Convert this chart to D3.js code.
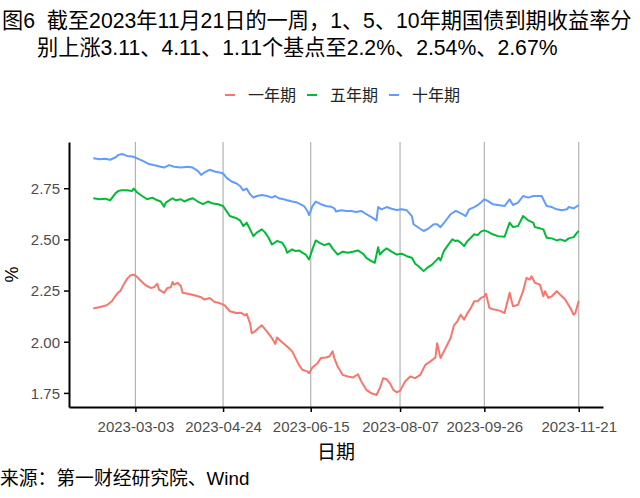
<!DOCTYPE html>
<html><head><meta charset="utf-8">
<script src="https://cdn.jsdelivr.net/npm/d3@7"></script>
<style>
body{margin:0;background:#fff}
svg{display:block}
text{font-family:"Liberation Sans","Noto Sans CJK SC",sans-serif}
</style>
</head><body>
<svg id="chart" width="640" height="498"></svg>
<script>
// ---------- data ----------
const titleLines = ["图6  截至2023年11月21日的一周，1、5、10年期国债到期收益率分",
                    "别上涨3.11、4.11、1.11个基点至2.2%、2.54%、2.67%"];
const seriesNames = ["一年期","五年期","十年期"];
const seriesColors = ["#F8766D","#00BA38","#619CFF"];
const xTickDates = ["2023-03-03","2023-04-24","2023-06-15","2023-08-07","2023-09-26","2023-11-21"];
const yTickValues = [1.75,2.00,2.25,2.50,2.75];
const xTitle = "日期";
const yTitle = "%";
const caption = "来源：第一财经研究院、Wind";

const oneYear = [
["2023-02-06",2.162],["2023-02-10",2.170],["2023-02-14",2.178],["2023-02-17",2.198],["2023-02-19",2.222],
["2023-02-21",2.242],["2023-02-22",2.247],["2023-02-24",2.279],["2023-02-26",2.307],["2023-02-28",2.324],
["2023-03-02",2.328],["2023-03-04",2.317],["2023-03-06",2.299],["2023-03-09",2.276],["2023-03-12",2.263],
["2023-03-14",2.266],["2023-03-16",2.283],["2023-03-17",2.255],["2023-03-20",2.239],["2023-03-22",2.263],
["2023-03-24",2.266],["2023-03-25",2.292],["2023-03-26",2.279],["2023-03-28",2.288],["2023-03-30",2.271],
["2023-03-31",2.239],["2023-04-03",2.234],["2023-04-07",2.227],["2023-04-11",2.217],["2023-04-13",2.206],
["2023-04-16",2.214],["2023-04-19",2.194],["2023-04-22",2.189],["2023-04-25",2.178],["2023-04-28",2.149],
["2023-05-02",2.140],["2023-05-05",2.140],["2023-05-07",2.129],["2023-05-08",2.136],["2023-05-10",2.091],
["2023-05-11",2.042],["2023-05-13",2.051],["2023-05-15",2.067],["2023-05-17",2.080],["2023-05-20",2.051],
["2023-05-23",2.018],["2023-05-25",1.989],["2023-05-26",2.021],["2023-05-29",1.998],["2023-06-01",1.977],
["2023-06-04",1.953],["2023-06-06",1.920],["2023-06-08",1.887],["2023-06-10",1.863],["2023-06-13",1.855],
["2023-06-14",1.846],["2023-06-16",1.874],["2023-06-19",1.895],["2023-06-21",1.920],["2023-06-24",1.923],
["2023-06-26",1.928],["2023-06-28",1.953],["2023-06-29",1.920],["2023-07-01",1.879],["2023-07-04",1.838],
["2023-07-07",1.830],["2023-07-10",1.825],["2023-07-13",1.841],["2023-07-15",1.806],["2023-07-18",1.765],
["2023-07-21",1.748],["2023-07-24",1.740],["2023-07-26",1.773],["2023-07-28",1.822],["2023-07-30",1.817],
["2023-08-01",1.797],["2023-08-03",1.765],["2023-08-05",1.753],["2023-08-07",1.760],["2023-08-10",1.806],
["2023-08-13",1.830],["2023-08-16",1.822],["2023-08-19",1.838],["2023-08-22",1.887],["2023-08-25",1.904],
["2023-08-28",1.923],["2023-08-29",1.993],["2023-08-31",1.920],["2023-09-02",1.953],["2023-09-04",1.985],
["2023-09-06",2.018],["2023-09-08",2.080],["2023-09-10",2.100],["2023-09-12",2.132],["2023-09-14",2.108],
["2023-09-16",2.140],["2023-09-18",2.165],["2023-09-20",2.198],["2023-09-22",2.198],["2023-09-24",2.214],
["2023-09-26",2.222],["2023-09-27",2.234],["2023-09-29",2.165],["2023-10-02",2.157],["2023-10-05",2.152],
["2023-10-08",2.140],["2023-10-11",2.239],["2023-10-13",2.173],["2023-10-16",2.181],["2023-10-19",2.247],
["2023-10-21",2.312],["2023-10-23",2.304],["2023-10-24",2.320],["2023-10-26",2.288],["2023-10-29",2.279],
["2023-10-31",2.222],["2023-11-01",2.247],["2023-11-03",2.214],["2023-11-05",2.222],["2023-11-08",2.247],
["2023-11-10",2.230],["2023-11-13",2.206],["2023-11-16",2.165],["2023-11-18",2.132],["2023-11-19",2.140],
["2023-11-21",2.200]
];

const fiveYear = [
["2023-02-06",2.701],["2023-02-10",2.696],["2023-02-13",2.699],["2023-02-16",2.691],["2023-02-19",2.724],
["2023-02-21",2.737],["2023-02-23",2.740],["2023-02-26",2.740],["2023-03-01",2.737],["2023-03-02",2.748],
["2023-03-04",2.729],["2023-03-07",2.712],["2023-03-10",2.696],["2023-03-13",2.704],["2023-03-16",2.691],
["2023-03-18",2.685],["2023-03-20",2.660],["2023-03-21",2.680],["2023-03-25",2.701],["2023-03-27",2.691],
["2023-03-30",2.696],["2023-04-01",2.685],["2023-04-04",2.696],["2023-04-06",2.701],["2023-04-09",2.685],
["2023-04-12",2.672],["2023-04-15",2.685],["2023-04-18",2.675],["2023-04-21",2.672],["2023-04-24",2.663],
["2023-04-26",2.639],["2023-04-28",2.614],["2023-05-02",2.603],["2023-05-04",2.593],["2023-05-06",2.565],
["2023-05-08",2.582],["2023-05-10",2.549],["2023-05-12",2.516],["2023-05-14",2.533],["2023-05-17",2.549],
["2023-05-19",2.533],["2023-05-21",2.508],["2023-05-23",2.475],["2023-05-26",2.492],["2023-05-29",2.484],
["2023-05-31",2.459],["2023-06-01",2.435],["2023-06-04",2.451],["2023-06-06",2.443],["2023-06-08",2.446],
["2023-06-10",2.435],["2023-06-12",2.426],["2023-06-14",2.402],["2023-06-16",2.451],["2023-06-18",2.495],
["2023-06-20",2.484],["2023-06-23",2.472],["2023-06-26",2.480],["2023-06-28",2.455],["2023-07-01",2.426],
["2023-07-04",2.440],["2023-07-07",2.435],["2023-07-10",2.440],["2023-07-13",2.446],["2023-07-16",2.430],
["2023-07-18",2.410],["2023-07-21",2.394],["2023-07-23",2.386],["2023-07-25",2.462],["2023-07-26",2.426],
["2023-07-28",2.443],["2023-07-30",2.456],["2023-08-02",2.440],["2023-08-05",2.426],["2023-08-08",2.430],
["2023-08-11",2.418],["2023-08-14",2.410],["2023-08-16",2.381],["2023-08-18",2.369],["2023-08-21",2.345],
["2023-08-23",2.361],["2023-08-26",2.377],["2023-08-28",2.394],["2023-08-30",2.410],["2023-08-31",2.397],
["2023-09-02",2.443],["2023-09-04",2.467],["2023-09-07",2.500],["2023-09-09",2.492],["2023-09-10",2.495],
["2023-09-12",2.484],["2023-09-14",2.467],["2023-09-16",2.492],["2023-09-18",2.508],["2023-09-20",2.525],
["2023-09-22",2.521],["2023-09-24",2.538],["2023-09-26",2.544],["2023-09-28",2.538],["2023-10-01",2.525],
["2023-10-04",2.516],["2023-10-08",2.513],["2023-10-11",2.582],["2023-10-13",2.560],["2023-10-16",2.565],
["2023-10-19",2.614],["2023-10-22",2.593],["2023-10-25",2.582],["2023-10-26",2.560],["2023-10-29",2.554],
["2023-10-31",2.549],["2023-11-02",2.508],["2023-11-05",2.505],["2023-11-08",2.495],["2023-11-10",2.500],
["2023-11-13",2.492],["2023-11-15",2.505],["2023-11-18",2.511],["2023-11-20",2.533],["2023-11-21",2.541]
];

const tenYear = [
["2023-02-06",2.897],["2023-02-10",2.892],["2023-02-13",2.894],["2023-02-16",2.889],["2023-02-19",2.900],
["2023-02-21",2.913],["2023-02-23",2.917],["2023-02-26",2.908],["2023-03-01",2.905],["2023-03-03",2.900],
["2023-03-05",2.892],["2023-03-08",2.881],["2023-03-11",2.868],["2023-03-15",2.861],["2023-03-18",2.855],
["2023-03-20",2.851],["2023-03-23",2.863],["2023-03-26",2.855],["2023-03-30",2.851],["2023-04-03",2.855],
["2023-04-06",2.851],["2023-04-09",2.835],["2023-04-11",2.815],["2023-04-13",2.827],["2023-04-16",2.840],
["2023-04-19",2.832],["2023-04-22",2.827],["2023-04-24",2.822],["2023-04-26",2.802],["2023-04-29",2.783],
["2023-05-02",2.773],["2023-05-04",2.761],["2023-05-06",2.740],["2023-05-08",2.748],["2023-05-10",2.721],
["2023-05-12",2.704],["2023-05-14",2.712],["2023-05-17",2.717],["2023-05-20",2.712],["2023-05-23",2.704],
["2023-05-25",2.712],["2023-05-27",2.701],["2023-05-30",2.696],["2023-06-01",2.691],["2023-06-04",2.685],
["2023-06-07",2.680],["2023-06-11",2.663],["2023-06-13",2.639],["2023-06-14",2.619],["2023-06-15",2.639],
["2023-06-16",2.663],["2023-06-18",2.685],["2023-06-21",2.672],["2023-06-24",2.663],["2023-06-27",2.660],
["2023-06-29",2.652],["2023-06-30",2.636],["2023-07-03",2.642],["2023-07-06",2.639],["2023-07-09",2.639],
["2023-07-12",2.634],["2023-07-15",2.639],["2023-07-18",2.623],["2023-07-21",2.609],["2023-07-24",2.593],
["2023-07-25",2.658],["2023-07-27",2.647],["2023-07-30",2.658],["2023-08-02",2.650],["2023-08-05",2.644],
["2023-08-08",2.647],["2023-08-11",2.642],["2023-08-14",2.614],["2023-08-15",2.574],["2023-08-18",2.557],
["2023-08-21",2.541],["2023-08-24",2.554],["2023-08-27",2.574],["2023-08-29",2.574],["2023-08-31",2.560],
["2023-09-03",2.590],["2023-09-06",2.623],["2023-09-09",2.639],["2023-09-10",2.636],["2023-09-13",2.623],
["2023-09-15",2.614],["2023-09-17",2.647],["2023-09-20",2.658],["2023-09-22",2.667],["2023-09-24",2.680],
["2023-09-26",2.696],["2023-09-28",2.688],["2023-10-01",2.672],["2023-10-04",2.668],["2023-10-08",2.663],
["2023-10-11",2.696],["2023-10-13",2.668],["2023-10-16",2.680],["2023-10-19",2.712],["2023-10-22",2.704],
["2023-10-25",2.712],["2023-10-28",2.712],["2023-10-30",2.712],["2023-11-02",2.663],["2023-11-05",2.658],
["2023-11-08",2.647],["2023-11-11",2.642],["2023-11-14",2.647],["2023-11-15",2.658],["2023-11-18",2.652],
["2023-11-20",2.662],["2023-11-21",2.667]
];

// ---------- drawing ----------
const parse = d3.utcParse("%Y-%m-%d");
const fmt = d3.utcFormat("%Y-%m-%d");
const allSeries = [oneYear, fiveYear, tenYear];
const svg = d3.select("#chart");

const plot = {left: 69, right: 603, top: 142, bottom: 407};

const allDates = allSeries.flat().map(d => parse(d[0]));
const allVals = allSeries.flat().map(d => d[1]);
const [d0, d1] = d3.extent(allDates);
const span = d1 - d0;
const x = d3.scaleUtc()
  .domain([new Date(+d0 - span * 0.05), new Date(+d1 + span * 0.05)])
  .range([plot.left, plot.right]);
const [v0, v1] = d3.extent(allVals);
const vs = v1 - v0;
const y = d3.scaleLinear()
  .domain([v0 - vs * 0.05, v1 + vs * 0.05])
  .range([plot.bottom, plot.top]);

// title
svg.append("g").selectAll("text").data(titleLines).join("text")
  .attr("x", (d, i) => i === 0 ? 2 : 37)
  .attr("y", (d, i) => 28 + i * 27)
  .style("font-size", "21.2px")
  .style("white-space", "pre")
  .attr("fill", "#000")
  .text(d => d);

// legend
const lg = svg.append("g");
let lx = 225;
seriesNames.forEach((name, i) => {
  lg.append("line").attr("x1", lx).attr("x2", lx + 10).attr("y1", 95).attr("y2", 95)
    .attr("stroke", seriesColors[i]).attr("stroke-width", 2);
  const t = lg.append("text").attr("x", lx + 23).attr("y", 101)
    .style("font-size", "16px").attr("fill", "#222").text(name);
  lx = lx + 23 + t.node().getComputedTextLength() + 11;
});

// vertical grid lines
svg.append("g").selectAll("line").data(xTickDates).join("line")
  .attr("x1", d => x(parse(d))).attr("x2", d => x(parse(d)))
  .attr("y1", plot.top).attr("y2", plot.bottom)
  .attr("stroke", "#b3b3b3").attr("stroke-width", 1.2);

// series lines
const line = d3.line().x(d => x(parse(d[0]))).y(d => y(d[1]));
svg.append("g").selectAll("path").data(allSeries).join("path")
  .attr("d", line)
  .attr("fill", "none")
  .attr("stroke", (d, i) => seriesColors[i])
  .attr("stroke-width", 2)
  .attr("stroke-linejoin", "round");

// axes
const xAxis = svg.append("g").attr("transform", `translate(0,${plot.bottom})`)
  .call(d3.axisBottom(x).tickValues(xTickDates.map(parse)).tickFormat(fmt).tickSize(5).tickSizeOuter(0));
const yAxis = svg.append("g").attr("transform", `translate(${plot.left},0)`)
  .call(d3.axisLeft(y).tickValues(yTickValues).tickFormat(d3.format(".2f")).tickSize(5).tickSizeOuter(0));
[xAxis, yAxis].forEach(a => {
  a.select(".domain").attr("stroke", "#000").attr("stroke-width", 2);
  a.selectAll(".tick line").attr("stroke", "#000").attr("stroke-width", 1.5);
  a.selectAll(".tick text").attr("fill", "#4d4d4d")
    .style("font-size", "15px").style("font-family", "'Liberation Sans', sans-serif");
});
xAxis.selectAll(".tick text").attr("dy", "0").attr("y", 25);
yAxis.selectAll(".tick text").attr("x", -9).attr("dy", "0.36em");

// axis titles
svg.append("text").attr("x", (plot.left + plot.right) / 2).attr("y", 459)
  .attr("text-anchor", "middle").style("font-size", "19px").attr("fill", "#000").text(xTitle);
svg.append("text").attr("transform", `translate(18,${(plot.top + plot.bottom) / 2}) rotate(-90)`)
  .attr("text-anchor", "middle").style("font-size", "18px").attr("fill", "#000").text(yTitle);

// caption
svg.append("text").attr("x", 0).attr("y", 485)
  .style("font-size", "18.8px").attr("fill", "#000").text(caption);
</script>
</body></html>
